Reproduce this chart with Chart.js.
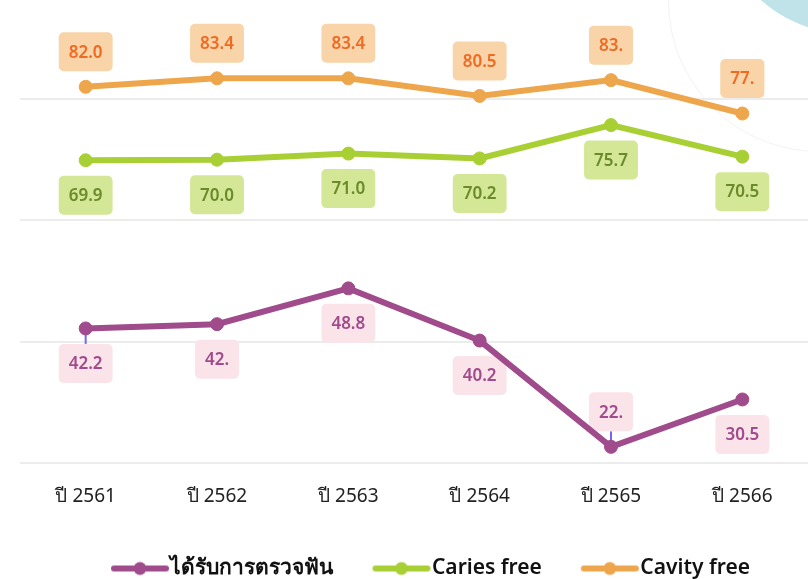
<!DOCTYPE html>
<html>
<head>
<meta charset="utf-8">
<script src="https://cdn.jsdelivr.net/npm/chart.js@4/dist/chart.umd.min.js"></script>
<style>
  html, body { margin: 0; padding: 0; background: #fff; overflow: hidden; }
  #wrap { position: relative; width: 808px; height: 579px; }
  #blob { position: absolute; left: 716px; top: -234px; width: 268px; height: 268px; border-radius: 50%; background: #bfe3e8; }
  #arc { position: absolute; left: 668px; top: -150px; width: 300px; height: 300px; border-radius: 50%; border: 1px solid #f3f3f3; }
  canvas { position: relative; }
</style>
</head>
<body>
<div id="wrap">
  <div id="arc"></div>
  <div id="blob"></div>
  <canvas id="chart" width="808" height="579"></canvas>
</div>
<script>
// categories
var years = ['ปี 2561', 'ปี 2562', 'ปี 2563', 'ปี 2564', 'ปี 2565', 'ปี 2566'];

// series values
var examined = [42.2, 42.9, 48.8, 40.2, 22.7, 30.5];
var cariesFree = [69.9, 70.0, 71.0, 70.2, 75.7, 70.5];
var cavityFree = [82.0, 83.4, 83.4, 80.5, 83.1, 77.6];

// label texts as printed on the chart
var examinedText = ['42.2', '42.', '48.8', '40.2', '22.', '30.5'];
var cariesText = ['69.9', '70.0', '71.0', '70.2', '75.7', '70.5'];
var cavityText = ['82.0', '83.4', '83.4', '80.5', '83.', '77.'];

// y grid values
var gridValues = [20, 40, 60, 80];

var purple = '#a04b8b';
var green = '#a8cf34';
var orange = '#eea64c';

// legend mark: thick line with a dot, shifted so it ends right before the text
function legendMark(color) {
  var c = document.createElement('canvas');
  c.width = 120;
  c.height = 16;
  var g = c.getContext('2d');
  g.strokeStyle = color;
  g.lineWidth = 6;
  g.lineCap = 'round';
  g.beginPath();
  g.moveTo(38, 8);
  g.lineTo(90, 8);
  g.stroke();
  g.fillStyle = color;
  g.beginPath();
  g.arc(64, 8, 6.5, 0, Math.PI * 2);
  g.fill();
  return c;
}

// boxed value labels
var boxLabels = {
  id: 'boxLabels',
  afterLayout: function (chart) {
    // nudge the legend a little right and down
    chart.legend.left += 17;
    chart.legend.right += 17;
    chart.legend.top += 2;
    chart.legend.bottom += 2;
  },
  beforeDatasetsDraw: function (chart) {
    var ctx = chart.ctx;
    chart.data.datasets.forEach(function (ds, i) {
      var meta = chart.getDatasetMeta(i);
      meta.data.forEach(function (pt, j) {
        var above = ds.labelSide[j] === 'above';
        var txt = ds.labelText[j];
        ctx.save();
        ctx.font = '600 17px "Noto Sans", sans-serif';
        var w = ctx.measureText(txt).width + 20;
        var h = 39;
        var cy = above ? pt.y - 35 : pt.y + 35;
        if (ds.leaders && ds.leaders.indexOf(j) >= 0) {
          ctx.strokeStyle = '#7468f2';
          ctx.lineWidth = 2;
          ctx.beginPath();
          ctx.moveTo(pt.x, pt.y);
          ctx.lineTo(pt.x, above ? cy + h / 2 : cy - h / 2);
          ctx.stroke();
        }
        ctx.fillStyle = ds.labelBg;
        ctx.beginPath();
        ctx.roundRect(pt.x - w / 2, cy - h / 2, w, h, 5);
        ctx.fill();
        ctx.fillStyle = ds.labelColor;
        ctx.textAlign = 'center';
        ctx.textBaseline = 'middle';
        ctx.fillText(txt, pt.x, cy + 1);
        ctx.restore();
      });
    });
  }
};

var ctx = document.getElementById('chart').getContext('2d');
new Chart(ctx, {
  type: 'line',
  data: {
    labels: years,
    datasets: [
      {
        label: 'ได้รับการตรวจฟัน',
        data: examined,
        borderColor: purple,
        backgroundColor: purple,
        labelText: examinedText,
        labelSide: ['below', 'below', 'below', 'below', 'above', 'below'],
        labelBg: '#fbe3ea',
        labelColor: '#a04b8b',
        leaders: [0, 4],
        mark: legendMark(purple)
      },
      {
        label: 'Caries free',
        data: cariesFree,
        borderColor: green,
        backgroundColor: green,
        labelText: cariesText,
        labelSide: ['below', 'below', 'below', 'below', 'below', 'below'],
        labelBg: '#d4e796',
        labelColor: '#6b8a2c',
        mark: legendMark(green)
      },
      {
        label: 'Cavity free',
        data: cavityFree,
        borderColor: orange,
        backgroundColor: orange,
        labelText: cavityText,
        labelSide: ['above', 'above', 'above', 'above', 'above', 'above'],
        labelBg: '#f8d4a8',
        labelColor: '#f06a24',
        mark: legendMark(orange)
      }
    ]
  },
  options: {
    responsive: false,
    animation: false,
    clip: false,
    layout: { autoPadding: false, padding: { left: 20, right: 0, top: 0, bottom: -8 } },
    elements: {
      line: { borderWidth: 6, tension: 0 },
      point: { radius: 6.5, hoverRadius: 6.5 }
    },
    scales: {
      x: {
        offset: true,
        grid: { display: false, drawTicks: false },
        border: { display: false },
        afterFit: function (scale) { scale.height -= 14; },
        ticks: {
          padding: 22,
          color: '#222',
          font: { family: '"Noto Sans", sans-serif', size: 19 }
        }
      },
      y: {
        min: 20,
        max: 96.3,
        afterBuildTicks: function (scale) {
          scale.ticks = gridValues.map(function (v) { return { value: v }; });
        },
        afterFit: function (scale) { scale.width = 0; },
        ticks: { display: false },
        border: { display: false },
        grid: { color: '#ececec', lineWidth: 2, drawTicks: false }
      }
    },
    plugins: {
      tooltip: { enabled: false },
      legend: {
        position: 'bottom',
        labels: {
          usePointStyle: true,
          pointStyleWidth: 48,
          padding: 40,
          color: '#111',
          font: { family: '"Noto Sans", sans-serif', size: 21, weight: '600' },
          generateLabels: function (chart) {
            return chart.data.datasets.map(function (ds, i) {
              return {
                text: ds.label,
                fontColor: '#111',
                pointStyle: ds.mark,
                datasetIndex: i,
                hidden: false,
                lineWidth: 0
              };
            });
          }
        }
      }
    }
  },
  plugins: [boxLabels]
});
</script>
</body>
</html>
